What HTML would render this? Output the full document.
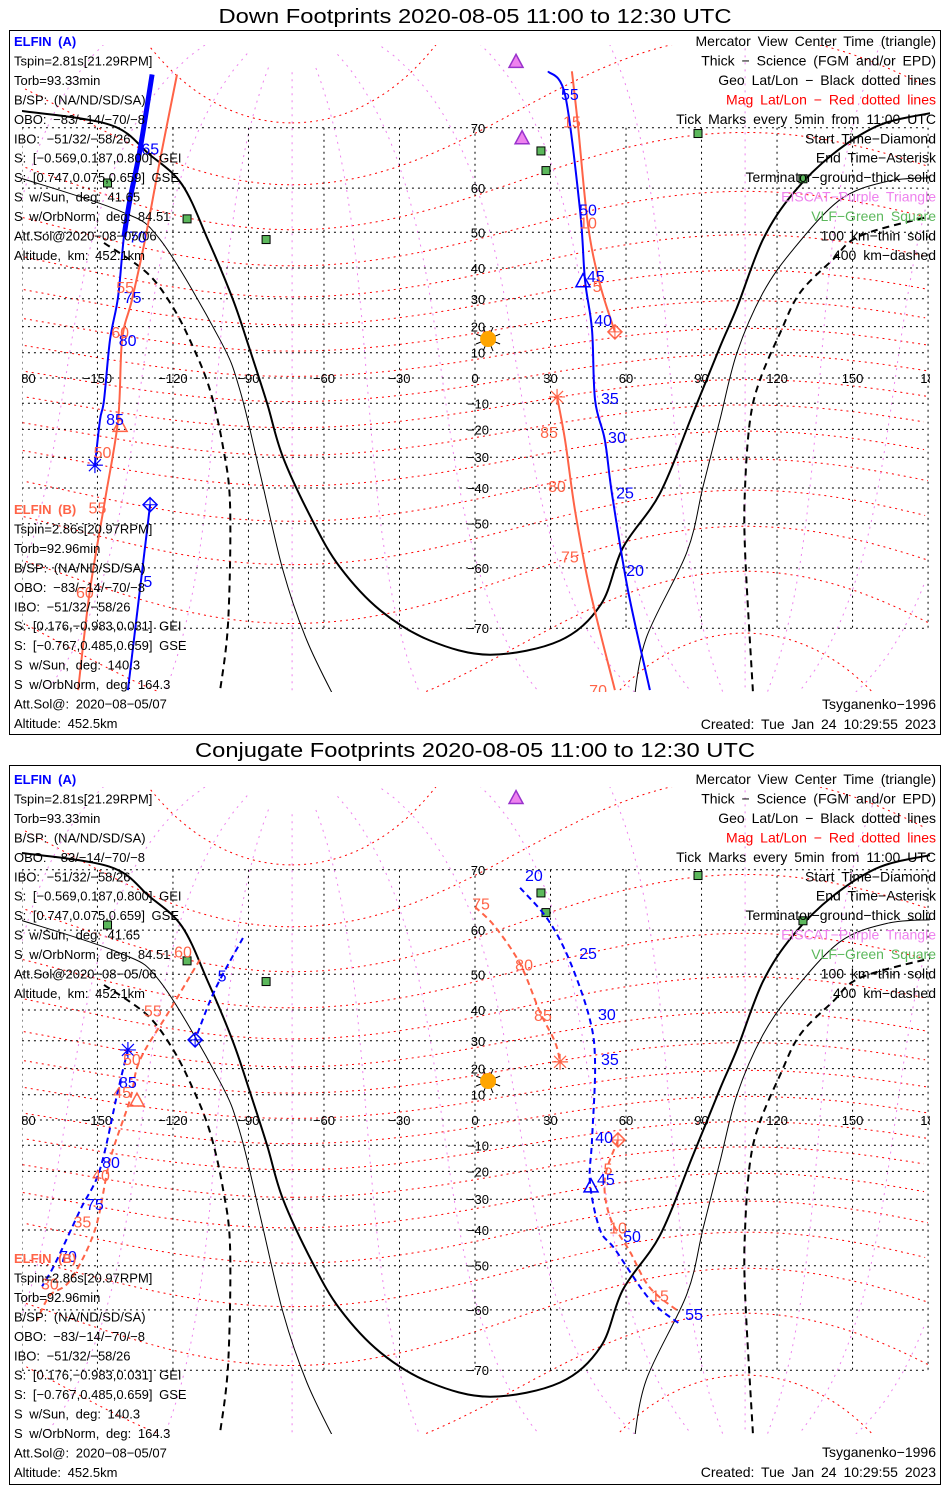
<!DOCTYPE html>
<html><head><meta charset="utf-8"><style>
body{margin:0;background:#fff}
svg{display:block}
text{font-family:"Liberation Sans",sans-serif;font-size:13px;word-spacing:3px}
text.leg{font-size:14px;word-spacing:3px}
</style></head><body>
<svg id="chart" width="950" height="1500" viewBox="0 0 950 1500" xmlns="http://www.w3.org/2000/svg">
<rect x="0" y="0" width="950" height="1500" fill="#fff"/>
<text x="475" y="23" text-anchor="middle" textLength="513" lengthAdjust="spacingAndGlyphs" style="font-size:20px;word-spacing:0">Down Footprints 2020-08-05 11:00 to 12:30 UTC</text>
<text x="475" y="757" text-anchor="middle" textLength="560" lengthAdjust="spacingAndGlyphs" style="font-size:20px;word-spacing:0">Conjugate Footprints 2020-08-05 11:00 to 12:30 UTC</text>
<rect x="9.5" y="30.5" width="931" height="704" fill="none" stroke="#000"/>
<rect x="9.5" y="765.5" width="931" height="719" fill="none" stroke="#000"/>
<defs>
<clipPath id="clipTop"><rect x="22" y="45" width="908" height="647"/></clipPath>
<clipPath id="clipBot"><rect x="22" y="787" width="908" height="647"/></clipPath>
</defs>
<g id="topMap" clip-path="url(#clipTop)"></g>
<g id="botMap" clip-path="url(#clipBot)"></g>
<g id="texts"></g>
</svg>
<script>
// ---------- data ----------
const lonTicks = [-150,-120,-90,-60,-30,0,30,60,90,120,150];
const latTicks = [-70,-60,-50,-40,-30,-20,-10,10,20,30,40,50,60,70];
const termThickLon = [-181,-145,-129.5,-116.4,-106.1,-96.1,-89.4,-82.6,-76.3,-64.4,-53.6,-37.7,-17.9,6,33.8,50,58.8,73.5,86.6,97.3,104.1,114.4,126.3,142.2,161,182.8];
const termThickLat = [72.2,70.4,66.1,60.7,48.1,29.6,11,-10,-30,-49.4,-59.9,-67.4,-71.6,-73.3,-71.6,-66.5,-55.7,-41.6,-13.9,12.2,27,48.1,58.9,66.1,70.4,72];
const termThinLeftLon = [-181,-141.4,-125.1,-101.3,-93.4,-85.4,-76.3,-66.8,-54.8];
const termThinLeftLat = [62,55.2,48.1,15,-4.8,-35.3,-60.5,-71.6,-78];
const termThinRightLon = [63,68,84.2,90.6,97.3,104.1,114.4,126.3,145,163.7,180.8];
const termThinRightLat = [-78,-71.3,-56.7,-39.6,-16.4,10,32,45.3,57.6,61.3,62];
const termDashLeftLon = [-147.4,-130.3,-120,-112,-105.3,-100.1,-97.3,-98.1,-101.3];
const termDashLeftLat = [47.2,38.5,27,12.2,-4.8,-26.4,-45.4,-69.2,-77];
const termDashRightLon = [110.4,107.3,107.3,109.3,113.2,121.2,129.1,142.2,153,180.8];
const termDashRightLat = [-77,-56.7,-39.6,-16.4,-0.8,17.6,32,42.5,49.1,53.9];
const vlfLon = [-146,-114.4,-83,26.2,28.2,88.6,130.3];
const vlfLat = [61,53.3,48.1,66.6,63.3,69.2,61.8];
const sunLon = 5.2, sunLat = 15.3;
const eiscatTopLon = [16.3,18.7], eiscatTopLat = [77.3,68.6];
const eiscatBotLon = [16.3], eiscatBotLat = [77.8];
// down footprints
const downABlueLon = [-128.3,-133.1,-137.1,-139.5,-141.8,-145,-147.4,-149,-151];
const downABlueLat = [76.1,66.8,57.6,48.8,30.7,15,-8.8,-16.4,-32.7];
const downARedLon = [-118.4,-125.1,-131.1,-136.3,-140.2,-141.8,-147,-153,-157.7];
const downARedLat = [76.1,65.2,48,29.6,15,-16.4,-43.6,-64.2,-76.9];
const downBBlueLon = [-129.1,-137.9];
const downBBlueLat = [-44.9,-76.9];
const downRBlueLon = [29,35.8,41.7,43.7,46.5,47.7,51.6,54.4,60.8,69.5];
const downRBlueLat = [76.4,74,55.4,36.2,18.8,-8.8,-24,-41.6,-64.2,-76.9];
const downRRed1Lon = [38.5,40.9,44.9,49.7,55.6];
const downRRed1Lat = [76.4,70.4,51.8,34.7,18];
const downRRed2Lon = [32.6,35.8,39.7,45.7,55.6];
const downRRed2Lat = [-7.5,-24,-46.3,-64.2,-76.9];
const downLabelText = ["65","70","75","80","85","55","60","50","55","60","5","55","50","45","40","35","30","25","20","15","10","5","85","80","75","70"];
const downLabelLon = [-129,-134,-136,-138,-143,-139,-141,-148,-150,-155,-130,37.7,44.9,48,50.9,53.6,56.4,59.6,63.6,38.5,44.9,48.5,29.4,32.6,37.7,48.9];
const downLabelLat = [66.8,48.6,30.3,14.6,-16.5,33.7,17.6,-28.6,-45.9,-64.6,-62.7,74,55.2,37.2,22.1,-8.4,-23.1,-41.6,-60.6,70.7,52.2,34,-21.4,-39.7,-57.9,-77];
const downLabelBlue = [1,1,1,1,1,0,0,0,0,0,1,1,1,1,1,1,1,1,1,0,0,0,0,0,0,0];
// conjugate footprints
const conjRBlueLon = [17.9,29,37.7,45.7,47.7,46.5,45.7,49.7,55.6,69.5,81.4];
const conjRBlueLat = [67.4,62,53.2,36.9,21.4,-7.9,-24.3,-40,-45.6,-57.9,-62.7];
const conjRRed1Lon = [0,7.9,17.9,25.8,31.8,33.8];
const conjRRed1Lat = [64.3,60.7,52.6,39.4,29.6,22.5];
const conjRRed2Lon = [56.8,51.6,53.6,61.6,69.5,81.4];
const conjRRed2Lat = [-7.9,-22.6,-35.9,-46.3,-55.3,-60.5];
const conjLBlue1Lon = [-92.2,-103.3,-111.2];
const conjLBlue1Lat = [58.4,45.9,30.3];
const conjLBlue2Lon = [-137.9,-141.8,-149,-156.9,-166.8,-172];
const conjLBlue2Lat = [26.8,11.8,-19.2,-33.7,-49.4,-55];
const conjLRedLon = [-109.3,-121.2,-133.1,-137.1,-145,-151,-160.9,-168.9,-174];
const conjLRedLat = [53.6,40,23.2,7.9,-15.6,-40,-53.6,-57,-62];
const conjLabelText = ["20","25","30","35","40","45","50","55","75","80","85","5","10","15","5","85","80","75","70","60","55","50","45","40","35","30"];
const conjLabelLon = [23.4,44.9,52.4,53.6,51.3,52,62.4,87,2.4,19.5,27,52.8,56.8,73.5,-100.5,-137.9,-144.6,-151,-161.7,-116,-128,-136.3,-140.2,-148.6,-156,-168.9];
const conjLabelLat = [69.1,54.9,38.5,23.2,-7.1,-23.2,-42.1,-61,64.7,52.2,38.2,-19.2,-39.6,-57.2,49.4,14.6,-16.8,-32,-47.7,55.2,39.6,23.2,10.6,-21.7,-37.6,-54.6];
const conjLabelBlue = [1,1,1,1,1,1,1,1,0,0,0,0,0,0,1,1,1,1,1,0,0,0,0,0,0,0];

// ---------- helpers ----------
const NS = "http://www.w3.org/2000/svg";
const BLUE = "#0000ff", ORANGE = "#ff6347";
function mk(tag, attrs, parent){ const e=document.createElementNS(NS,tag); for(const k in attrs) e.setAttribute(k,attrs[k]); parent.appendChild(e); return e; }
function xS(lon){ return 475 + lon*2.517; }
function yS(lat, eq){ const r=Math.max(-85,Math.min(85,lat))*Math.PI/180; return eq - 144.2*Math.log(Math.tan(Math.PI/4 + r/2)); }
function pathD(lons, lats, eq){
  const P=lons.map((l,i)=>[xS(l),yS(lats[i],eq)]);
  if(P.length<3){ return "M"+P.map(p=>p[0].toFixed(1)+","+p[1].toFixed(1)).join("L"); }
  let d="M"+P[0][0].toFixed(1)+","+P[0][1].toFixed(1);
  for(let i=0;i<P.length-1;i++){
    const p0=P[Math.max(0,i-1)],p1=P[i],p2=P[i+1],p3=P[Math.min(P.length-1,i+2)];
    const c1=[p1[0]+(p2[0]-p0[0])/6,p1[1]+(p2[1]-p0[1])/6];
    const c2=[p2[0]-(p3[0]-p1[0])/6,p2[1]-(p3[1]-p1[1])/6];
    d+=`C${c1[0].toFixed(1)},${c1[1].toFixed(1)} ${c2[0].toFixed(1)},${c2[1].toFixed(1)} ${p2[0].toFixed(1)},${p2[1].toFixed(1)}`;
  }
  return d;
}
function line(g, lons, lats, eq, color, w, dash, name){
  const p = mk("path",{d:pathD(lons,lats,eq),fill:"none",stroke:color,"stroke-width":w},g);
  if(dash) p.setAttribute("stroke-dasharray",dash);
  
  
  return p;
}
const poleColat = 9.35*Math.PI/180, poleLon = -72.68*Math.PI/180;
function magToGeo(mlat, mlon){
  const th=(90-mlat)*Math.PI/180, ph=mlon*Math.PI/180;
  const x=Math.sin(th)*Math.cos(ph), y=Math.sin(th)*Math.sin(ph), z=Math.cos(th);
  const x1 = x*Math.cos(poleColat)+z*Math.sin(poleColat);
  const z1 = -x*Math.sin(poleColat)+z*Math.cos(poleColat);
  const X = x1*Math.cos(poleLon)-y*Math.sin(poleLon);
  const Y = x1*Math.sin(poleLon)+y*Math.cos(poleLon);
  return [Math.atan2(Y,X)*180/Math.PI, Math.asin(z1)*180/Math.PI];
}
function magCurve(g, pts, eq, color, dash, name){
  let d="", prev=null;
  for(const p of pts){
    const cmd = (prev===null || Math.abs(p[0]-prev)>180) ? "M" : "L";
    d += cmd + xS(p[0]).toFixed(1)+","+yS(p[1],eq).toFixed(1);
    prev=p[0];
  }
  const e = mk("path",{d:d,fill:"none",stroke:color,"stroke-width":1,"stroke-dasharray":dash},g);
  
  
}

function drawBase(g, eq){
  for(let m=-80;m<=80;m+=10){
    const pts=[]; for(let l=0;l<=360;l+=2) pts.push(magToGeo(m,l));
    magCurve(g, pts, eq, "#ff0000", "2,4", "mag-lat-line");
  }
  for(let l=0;l<360;l+=30){
    const pts=[]; for(let m=-86;m<=86;m+=2) pts.push(magToGeo(m,l));
    magCurve(g, pts, eq, "#ee82ee", "2,5", "mag-lon-line");
  }
  const yTop=yS(70,eq), yBot=yS(-70,eq);
  for(const lo of [-180].concat(lonTicks).concat([180])){
    const e=mk("line",{x1:xS(lo),x2:xS(lo),y1:yTop,y2:yBot,stroke:"#000","stroke-width":1,"stroke-dasharray":"2,4"},g);
    
    
  }
  for(const la of latTicks.concat([0])){
    const e=mk("line",{x1:xS(-180),x2:xS(180),y1:yS(la,eq),y2:yS(la,eq),stroke:"#000","stroke-width":1,"stroke-dasharray":"2,4"},g);
    
    
  }
  line(g, termThickLon, termThickLat, eq, "#000", 2, null, "terminator-ground");
  line(g, termThinLeftLon, termThinLeftLat, eq, "#000", 1, null, "terminator-100km-west");
  line(g, termThinRightLon, termThinRightLat, eq, "#000", 1, null, "terminator-100km-east");
  line(g, termDashLeftLon, termDashLeftLat, eq, "#000", 2, "7,5", "terminator-400km-west");
  line(g, termDashRightLon, termDashRightLat, eq, "#000", 2, "7,5", "terminator-400km-east");
  for(const lo of lonTicks){
    const t=mk("text",{x:xS(lo),y:eq+5,"text-anchor":"middle"},g); t.textContent=String(lo).replace("-","\u2212");
    
    
  }
  for(const [x,a] of [[14,"start"],[942,"end"]]){
    const t=mk("text",{x:x,y:eq+5,"text-anchor":a},g); t.textContent="180";
    
    
  }
  for(const la of latTicks){
    const t=mk("text",{x:478,y:yS(la,eq)+5,"text-anchor":"middle"},g); t.textContent=String(la).replace("-","\u2212");
    
    
  }
  for(let i=0;i<vlfLon.length;i++){
    const e=mk("rect",{x:xS(vlfLon[i])-4,y:yS(vlfLat[i],eq)-4,width:8,height:8,fill:"#5cb85c",stroke:"#000","stroke-width":1},g);
    
    
  }
  const sx=xS(sunLon), sy=yS(sunLat,eq);
  for(let k=0;k<4;k++){
    const a=k*Math.PI/4+Math.PI/8;
    mk("line",{x1:sx-13*Math.cos(a),y1:sy-13*Math.sin(a),x2:sx+13*Math.cos(a),y2:sy+13*Math.sin(a),stroke:"#000","stroke-width":1},g);
  }
  const s=mk("circle",{cx:sx,cy:sy,r:8,fill:"#ffa500"},g);
  
  
}
function tri(g,lon,lat,eq,color,fill,name){
  const x=xS(lon),y=yS(lat,eq);
  const e=mk("polygon",{points:`${x},${y-7} ${x-7},${y+6} ${x+7},${y+6}`,fill:fill,stroke:color,"stroke-width":1.5},g);
  
  
}
function diamond(g,lon,lat,eq,color,name){
  const x=xS(lon),y=yS(lat,eq);
  const e=mk("polygon",{points:`${x},${y-7} ${x+7},${y} ${x},${y+7} ${x-7},${y}`,fill:"none",stroke:color,"stroke-width":1.5},g);
  
  
  mk("path",{d:`M${x-7},${y}H${x+7}M${x},${y-7}V${y+7}`,stroke:color,"stroke-width":1},g);
}
function aster(g,lon,lat,eq,color,name){
  const x=xS(lon),y=yS(lat,eq);
  const e=mk("path",{d:`M${x-8},${y}H${x+8}M${x},${y-8}V${y+8}M${x-6},${y-6}L${x+6},${y+6}M${x-6},${y+6}L${x+6},${y-6}`,stroke:color,"stroke-width":1.2,fill:"none"},g);
  
  
}
function labels(g,txt,lons,lats,blue,eq){
  for(let i=0;i<txt.length;i++){
    const t=mk("text",{x:xS(lons[i]),y:yS(lats[i],eq)+5,"text-anchor":"middle",fill:blue[i]?BLUE:ORANGE},g);
    t.style.fontSize="16px";
    t.textContent=txt[i];
    
    
  }
}

// ---------- top panel ----------
const gT=document.getElementById("topMap"), eqT=378;
drawBase(gT, eqT);
for(let i=0;i<eiscatTopLon.length;i++) tri(gT,eiscatTopLon[i],eiscatTopLat[i],eqT,"#9932cc","#ee82ee","eiscat-marker");
line(gT, downARedLon, downARedLat, eqT, ORANGE, 2, null, "elfin-a-red-track-west");
line(gT, downABlueLon, downABlueLat, eqT, BLUE, 2, null, "elfin-a-blue-track-west");
line(gT, downABlueLon.slice(0,4), downABlueLat.slice(0,4), eqT, BLUE, 5, null, "elfin-a-science-segment");
line(gT, downBBlueLon, downBBlueLat, eqT, BLUE, 2, null, "elfin-b-blue-track");
line(gT, downRBlueLon, downRBlueLat, eqT, BLUE, 2, null, "elfin-blue-track-east");
line(gT, downRRed1Lon, downRRed1Lat, eqT, ORANGE, 2, null, "elfin-red-track-east-north");
line(gT, downRRed2Lon, downRRed2Lat, eqT, ORANGE, 2, null, "elfin-red-track-east-south");
tri(gT, 42.9, 36, eqT, BLUE, "none", "center-time-triangle");
tri(gT, -141, -18.5, eqT, ORANGE, "none", "center-time-triangle");
diamond(gT, downRRed1Lon[4], downRRed1Lat[4], eqT, ORANGE, "start-diamond");
diamond(gT, downBBlueLon[0], downBBlueLat[0], eqT, BLUE, "start-diamond");
aster(gT, downABlueLon[8], downABlueLat[8], eqT, BLUE, "end-asterisk");
aster(gT, downRRed2Lon[0], downRRed2Lat[0], eqT, ORANGE, "end-asterisk");
labels(gT, downLabelText, downLabelLon, downLabelLat, downLabelBlue, eqT);

// ---------- bottom panel ----------
const gB=document.getElementById("botMap"), eqB=1120;
drawBase(gB, eqB);
for(let i=0;i<eiscatBotLon.length;i++) tri(gB,eiscatBotLon[i],eiscatBotLat[i],eqB,"#9932cc","#ee82ee","eiscat-marker");
line(gB, conjRBlueLon, conjRBlueLat, eqB, BLUE, 2, "6,4", "conj-blue-track-east");
line(gB, conjRRed1Lon, conjRRed1Lat, eqB, ORANGE, 2, "6,4", "conj-red-track-east-north");
line(gB, conjRRed2Lon, conjRRed2Lat, eqB, ORANGE, 2, "6,4", "conj-red-track-east-south");
line(gB, conjLBlue1Lon, conjLBlue1Lat, eqB, BLUE, 2, "6,4", "conj-blue-track-west-1");
line(gB, conjLBlue2Lon, conjLBlue2Lat, eqB, BLUE, 2, "6,4", "conj-blue-track-west-2");
line(gB, conjLRedLon, conjLRedLat, eqB, ORANGE, 2, "6,4", "conj-red-track-west");
tri(gB, 46.1, -25.3, eqB, BLUE, "none", "center-time-triangle");
tri(gB, -134.3, 7.9, eqB, ORANGE, "none", "center-time-triangle");
diamond(gB, conjLBlue1Lon[2], conjLBlue1Lat[2], eqB, BLUE, "start-diamond");
diamond(gB, conjRRed2Lon[0], conjRRed2Lat[0], eqB, ORANGE, "start-diamond");
aster(gB, conjLBlue2Lon[0], conjLBlue2Lat[0], eqB, BLUE, "end-asterisk");
aster(gB, conjRRed1Lon[5], conjRRed1Lat[5], eqB, ORANGE, "end-asterisk");
labels(gB, conjLabelText, conjLabelLon, conjLabelLat, conjLabelBlue, eqB);

// ---------- text blocks ----------
const gX=document.getElementById("texts");
const infoA = ["Tspin=2.81s[21.29RPM]","Torb=93.33min","B/SP: (NA/ND/SD/SA)","OBO: \u221283/\u221214/\u221270/\u22128","IBO: \u221251/32/\u221258/26","S: [\u22120.569,0.187,0.800] GEI","S: [0.747,0.075,0.659] GSE","S w/Sun, deg: 41.65","S w/OrbNorm, deg: 84.51","Att.Sol@2020\u221208\u221205/06","Altitude, km: 452.1km"];
const infoB = ["Tspin=2.86s[20.97RPM]","Torb=92.96min","B/SP: (NA/ND/SD/SA)","OBO: \u221283/\u221214/\u221270/\u22128","IBO: \u221251/32/\u221258/26","S: [0.176,\u22120.983,0.031] GEI","S: [\u22120.767,0.485,0.659] GSE","S w/Sun, deg: 140.3","S w/OrbNorm, deg: 164.3","Att.Sol@: 2020\u221208\u221205/07","Altitude: 452.5km"];
const legendLines = ["Mercator View Center Time (triangle)","Thick \u2212 Science (FGM and/or EPD)","Geo Lat/Lon \u2212 Black dotted lines","Mag Lat/Lon \u2212 Red dotted lines","Tick Marks every 5min from 11:00 UTC","Start Time\u2212Diamond","End Time\u2212Asterisk","Terminator\u2212ground\u2212thick solid","EISCAT\u2212Purple Triangle","VLF\u2212Green Square","100 km\u2212thin solid","400 km\u2212dashed"];
const legendColors = ["#000","#000","#000","#ff0000","#000","#000","#000","#000","#ee82ee","#5cb85c","#000","#000"];
function txt(x,y,s,color,anchor,name,bold,cls){
  const t=mk("text",{x:x,y:y,fill:color||"#000","text-anchor":anchor||"start"},gX);
  if(bold) t.setAttribute("font-weight","bold");
  if(cls) t.setAttribute("class",cls);
  t.textContent=s;
  
  
}
function block(y0, head, headColor, lines){
  txt(14, y0+5, head, headColor, "start", "satellite-name", true);
  for(let i=0;i<lines.length;i++) txt(14, y0+5+(i+1)*19.45, lines[i], "#000", "start", "satellite-info-line");
}
for(const off of [0,738]){
  block(41+off, "ELFIN (A)", BLUE, infoA);
  for(let i=0;i<legendLines.length;i++) txt(936, 46+off+i*19.45, legendLines[i], legendColors[i], "end", "legend-line", false, "leg");
}
block(509, "ELFIN (B)", ORANGE, infoB);
block(1258, "ELFIN (B)", ORANGE, infoB);
txt(936, 709, "Tsyganenko\u22121996", "#000", "end", "model-label", false, "leg");
txt(936, 729, "Created: Tue Jan 24 10:29:55 2023", "#000", "end", "created-label", false, "leg");
txt(936, 1457, "Tsyganenko\u22121996", "#000", "end", "model-label", false, "leg");
txt(936, 1477, "Created: Tue Jan 24 10:29:55 2023", "#000", "end", "created-label", false, "leg");
</script>
</body></html>
